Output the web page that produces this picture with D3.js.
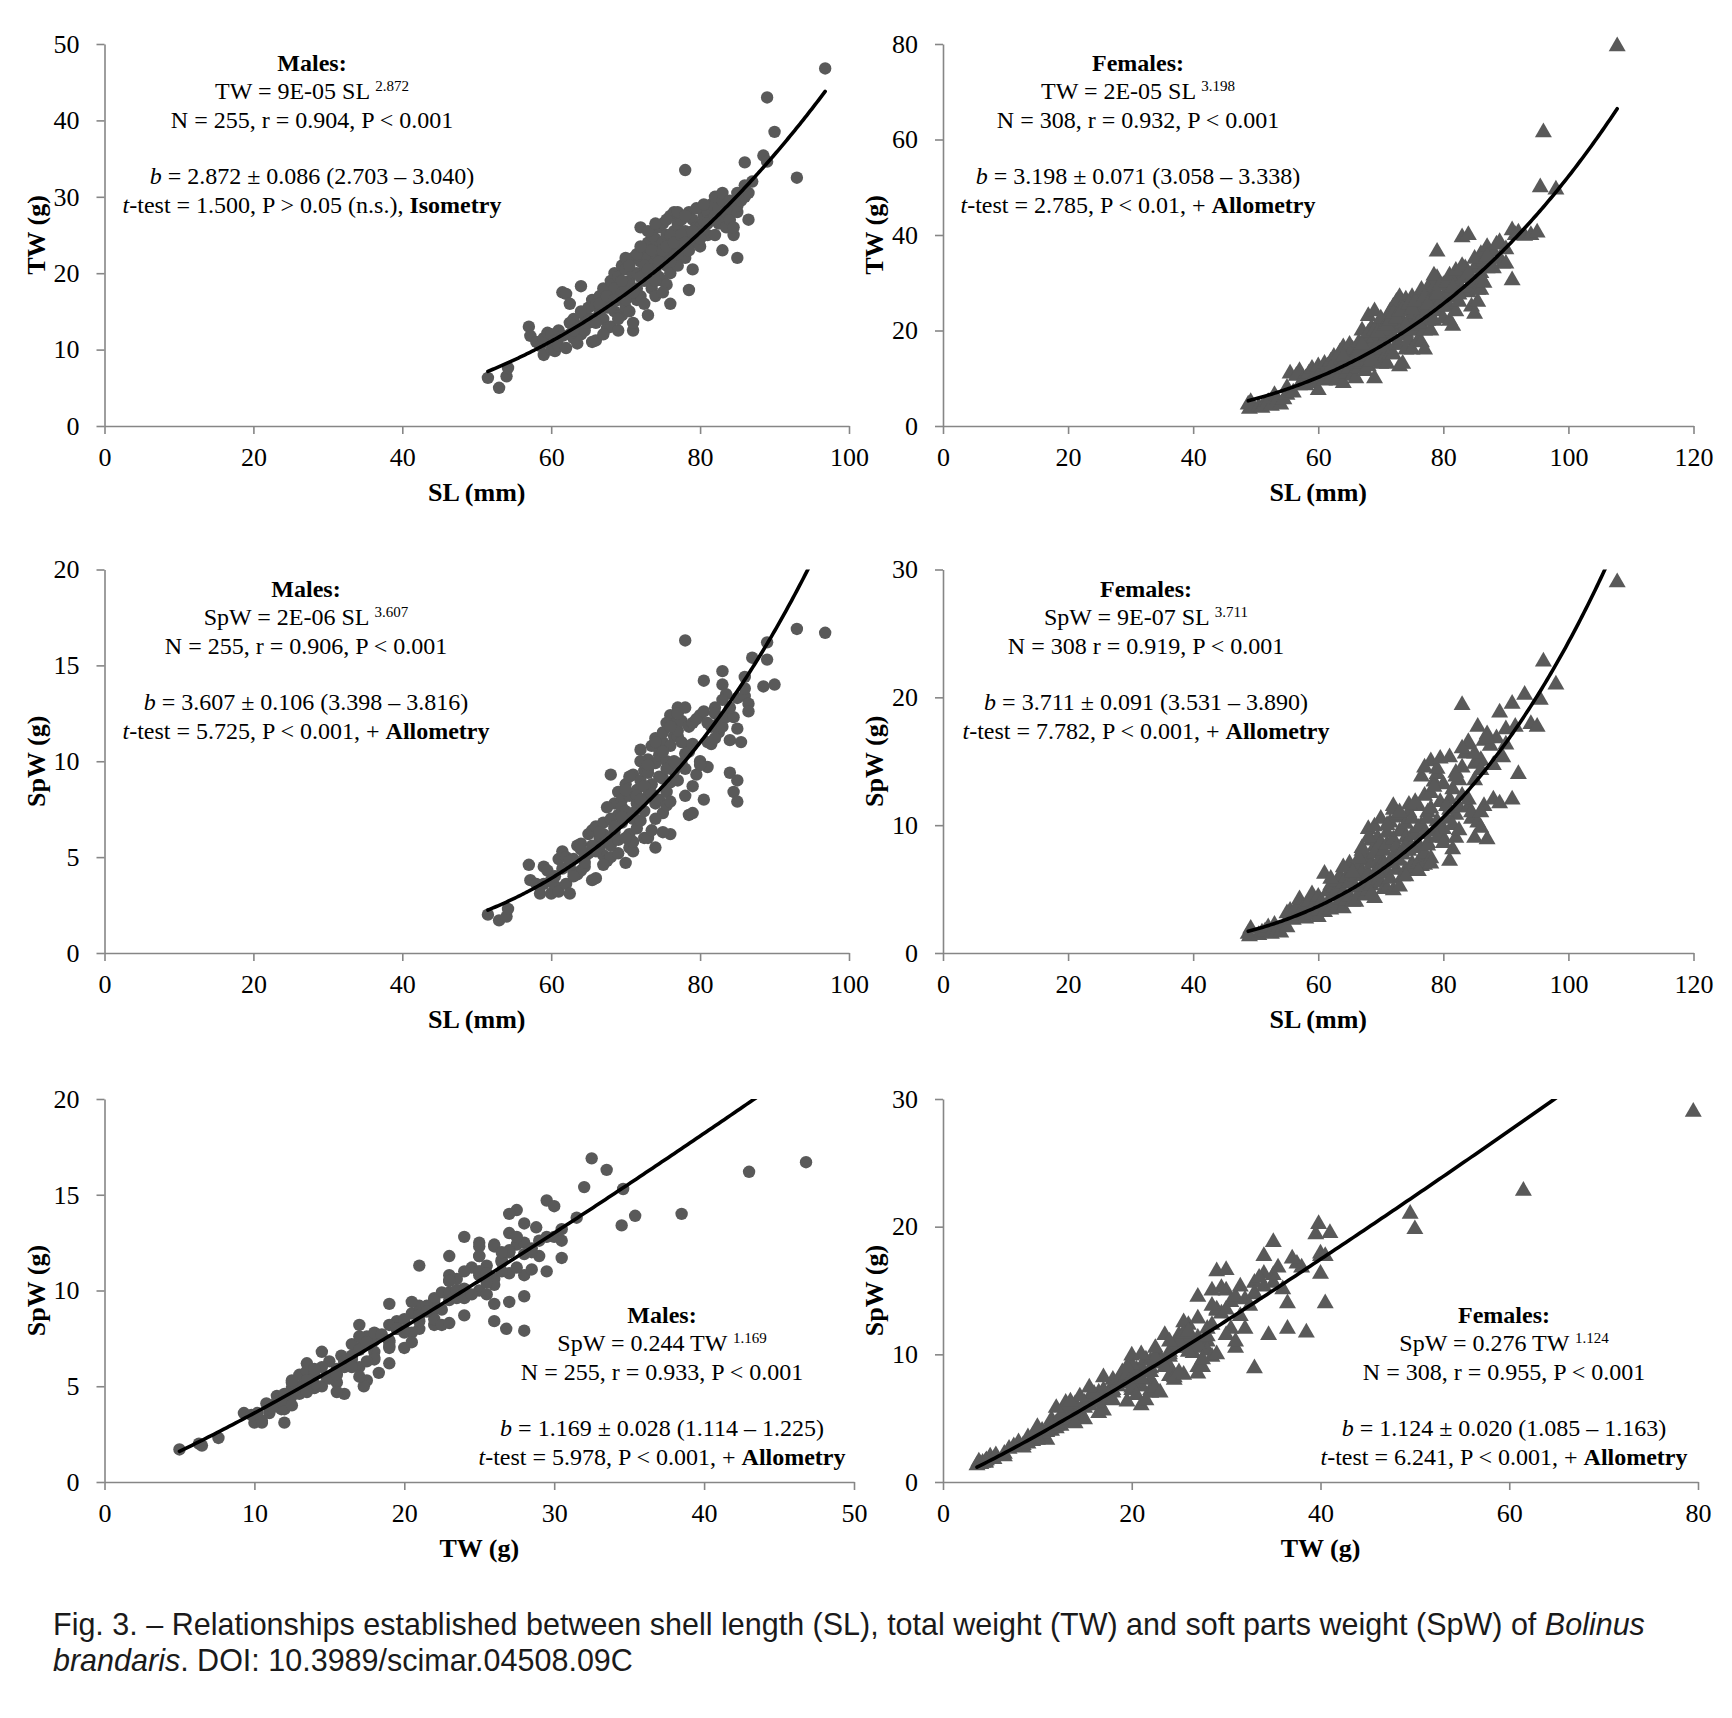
<!DOCTYPE html>
<html>
<head>
<meta charset="utf-8">
<script src="https://cdn.jsdelivr.net/npm/d3@7/dist/d3.min.js"></script>
<style>
  body { margin: 0; background: #fff; }
  svg text.serif { font-family: "Liberation Serif", "Times New Roman", serif; }
  svg text.caption { font-family: "Liberation Sans", Arial, Helvetica, sans-serif; }
</style>
</head>
<body>
<svg id="fig" width="1732" height="1718"></svg>
<script>
// ---- data: [SL (mm), TW (g), SpW (g)] per animal ----
var males = [
  [51.5, 6.3, 2.0], [53.0, 5.0, 1.7], [54.0, 6.5, 1.9], [54.2, 7.6, 2.3],
  [57.0, 13.0, 4.6], [57.2, 11.8, 3.8], [58.0, 11.0, 3.6], [58.5, 10.5, 3.1],
  [59.0, 9.3, 3.6], [59.0, 11.5, 4.5], [59.5, 12.2, 4.3], [60.0, 10.0, 3.1],
  [60.0, 12.0, 3.8], [60.5, 9.8, 3.5], [60.5, 11.2, 4.0], [61.0, 12.5, 4.9],
  [61.0, 10.5, 3.2], [61.5, 11.8, 4.4], [61.5, 17.5, 5.3], [62.0, 17.3, 5.0],
  [62.0, 10.2, 3.6], [62.5, 16.0, 4.6], [62.5, 12.0, 3.1], [63.0, 14.0, 4.9],
  [63.0, 11.5, 4.2], [63.5, 13.0, 5.6], [63.5, 10.8, 4.1], [64.0, 18.3, 5.7],
  [64.0, 12.0, 4.3], [64.5, 14.5, 5.0], [64.5, 12.5, 4.5], [65.0, 15.5, 5.2],
  [65.0, 13.5, 6.2], [65.5, 11.0, 3.8], [65.5, 16.5, 6.4], [66.0, 11.2, 3.9],
  [66.0, 15.8, 6.6], [66.5, 17.0, 6.0], [66.5, 14.8, 5.5], [67.0, 14.0, 5.1],
  [67.0, 16.2, 6.2], [67.0, 18.0, 6.8], [67.5, 15.5, 5.9], [67.5, 12.8, 4.8],
  [68.0, 13.0, 5.0], [68.0, 19.0, 9.3], [68.0, 17.0, 7.0], [68.5, 20.0, 7.8],
  [68.5, 15.0, 6.3], [68.5, 18.0, 6.5], [69.0, 16.5, 7.2], [69.0, 12.5, 5.2],
  [69.0, 19.5, 8.4], [69.5, 21.0, 8.0], [69.5, 14.5, 6.8], [69.5, 17.5, 7.6],
  [70.0, 18.0, 7.4], [70.0, 15.5, 4.7], [70.0, 20.5, 8.8], [70.5, 15.0, 5.5],
  [70.5, 19.0, 6.2], [70.5, 17.0, 8.2], [71.0, 22.0, 9.3], [71.0, 12.5, 5.3],
  [71.0, 13.5, 5.8], [71.0, 20.0, 7.0], [71.5, 20.0, 8.5], [71.5, 18.0, 7.8],
  [71.5, 16.5, 6.5], [72.0, 17.0, 6.9], [72.0, 26.0, 10.6], [72.0, 21.5, 9.0],
  [72.5, 23.0, 9.5], [72.5, 19.0, 7.4], [72.5, 16.0, 6.0], [73.0, 14.5, 6.0],
  [73.0, 19.0, 8.2], [73.0, 22.0, 9.6], [73.0, 24.0, 10.1], [73.5, 21.0, 8.8],
  [73.5, 18.0, 6.4], [73.5, 25.0, 10.8], [74.0, 24.5, 11.2], [74.0, 17.0, 5.5],
  [74.0, 20.5, 7.8], [74.0, 22.5, 9.9], [74.5, 26.0, 10.3], [74.5, 19.5, 8.0],
  [74.5, 23.5, 10.6], [75.0, 19.0, 7.3], [75.0, 22.0, 9.1], [75.0, 24.0, 11.0],
  [75.0, 26.5, 11.5], [75.5, 25.0, 10.0], [75.5, 21.0, 8.4], [75.5, 18.5, 7.7],
  [76.0, 27.5, 12.4], [76.0, 16.0, 6.2], [76.0, 23.0, 10.8], [76.0, 20.0, 7.9],
  [76.5, 28.0, 11.9], [76.5, 22.0, 9.5], [76.5, 25.5, 11.3], [77.0, 24.0, 12.8],
  [77.0, 21.0, 11.3], [77.0, 26.5, 11.6], [77.5, 27.0, 12.1], [77.5, 23.0, 9.9],
  [78.0, 33.5, 16.3], [78.0, 22.0, 8.2], [78.0, 25.5, 10.4], [78.5, 17.8, 7.2],
  [78.5, 25.0, 11.8], [78.5, 28.0, 10.8], [79.0, 20.5, 7.3], [79.0, 27.0, 12.0],
  [79.0, 24.0, 8.7], [79.5, 26.0, 9.3], [80.0, 26.0, 12.4], [80.0, 23.5, 10.0],
  [80.5, 26.8, 8.0], [80.5, 27.5, 14.2], [81.0, 28.0, 9.7], [81.0, 25.0, 11.0],
  [81.5, 27.0, 10.9], [81.5, 29.0, 11.8], [82.0, 30.0, 12.8], [82.0, 25.0, 12.5],
  [82.5, 28.5, 12.0], [82.5, 26.5, 11.5], [83.0, 29.5, 14.7], [83.0, 23.0, 11.8],
  [83.0, 27.0, 14.0], [83.5, 28.0, 13.5], [83.5, 26.0, 12.3], [84.0, 27.0, 9.4],
  [84.0, 28.5, 11.1], [84.5, 25.0, 12.3], [84.5, 26.0, 8.4], [85.0, 22.0, 9.0],
  [85.0, 28.0, 7.9], [85.0, 28.8, 13.3], [85.5, 29.5, 11.0], [86.0, 34.5, 13.4],
  [86.0, 30.0, 14.4], [86.5, 27.0, 13.0], [86.5, 30.5, 12.6], [87.0, 32.0, 15.4],
  [88.5, 35.4, 13.9], [89.0, 34.6, 15.3], [89.0, 43.0, 16.2], [90.0, 38.5, 14.0],
  [93.0, 32.5, 16.9], [96.8, 46.8, 16.7],
  [62.5, 13.5, 4.8], [63.0, 12.5, 4.0], [64.0, 15.0, 5.4], [64.5, 13.5, 4.7],
  [65.5, 14.0, 5.6], [66.0, 13.5, 5.3], [66.5, 16.0, 6.3], [67.0, 12.0, 4.6],
  [67.5, 17.0, 7.6], [68.0, 15.5, 5.6], [68.5, 16.5, 6.6], [69.0, 14.0, 5.9],
  [69.5, 19.0, 7.1], [70.0, 16.5, 6.0], [70.0, 22.0, 8.5], [70.5, 21.0, 9.2],
  [71.0, 17.5, 7.3], [71.5, 22.5, 8.2], [72.0, 19.5, 8.0], [72.0, 23.5, 10.0],
  [72.5, 21.0, 8.7], [73.0, 20.5, 9.4], [73.0, 25.5, 9.8], [73.5, 23.0, 8.3],
  [74.0, 19.0, 7.0], [74.0, 26.5, 11.0], [74.5, 21.5, 9.2], [75.0, 23.0, 10.5],
  [75.0, 17.5, 6.3], [75.5, 27.0, 12.0], [75.5, 23.5, 9.6], [76.0, 21.5, 8.9],
  [76.0, 25.0, 11.8], [76.5, 24.0, 10.0], [77.0, 22.5, 9.0], [77.0, 28.0, 12.5],
  [77.5, 25.0, 11.0], [78.0, 24.0, 9.6], [78.0, 27.5, 12.8], [78.5, 23.0, 10.5],
  [79.0, 25.5, 10.9], [79.5, 28.5, 12.2], [80.0, 24.5, 9.8], [80.5, 29.0, 12.6],
  [81.0, 26.5, 12.0], [82.0, 27.5, 11.2], [83.0, 30.5, 13.2], [84.0, 29.5, 12.8],
  [85.0, 30.5, 11.7], [86.0, 31.5, 13.8]
];

var females = [
  [48.8, 4.5, 1.5], [49.0, 3.6, 1.3], [49.2, 5.0, 1.9], [50.5, 4.0, 1.4],
  [51.0, 3.8, 1.6], [51.5, 4.6, 1.7], [52.0, 5.0, 2.0], [52.5, 4.2, 1.5],
  [53.0, 6.5, 2.2], [53.5, 5.4, 1.8], [54.0, 4.5, 1.6], [54.5, 5.6, 2.1],
  [55.0, 8.0, 3.1], [55.0, 6.5, 2.0], [55.5, 11.0, 3.3], [56.0, 7.0, 2.6],
  [56.5, 10.5, 3.6], [57.0, 11.5, 4.2], [57.0, 8.5, 2.9], [57.5, 9.5, 3.4],
  [58.0, 8.5, 2.7], [58.0, 10.0, 3.5], [58.5, 11.0, 4.0], [59.0, 9.0, 3.0],
  [59.0, 12.0, 4.6], [59.5, 10.5, 3.8], [60.0, 7.5, 2.8], [60.0, 12.5, 4.4],
  [60.0, 10.0, 3.3], [60.5, 11.5, 4.0], [61.0, 13.0, 6.2], [61.0, 9.5, 3.2],
  [61.5, 11.0, 3.9], [61.5, 12.5, 4.8], [62.0, 10.0, 3.4], [62.0, 13.5, 5.3],
  [62.5, 11.5, 4.5], [62.5, 14.5, 5.1], [63.0, 11.5, 4.9], [63.0, 14.0, 5.6],
  [63.0, 9.5, 3.6], [63.5, 12.0, 4.2], [63.5, 15.5, 6.0], [64.0, 16.5, 5.4],
  [64.0, 9.0, 3.5], [64.0, 13.0, 4.7], [64.5, 14.0, 5.9], [64.5, 11.0, 4.1],
  [65.0, 17.0, 7.0], [65.0, 12.0, 4.4], [65.0, 14.5, 5.5], [65.5, 16.0, 6.4],
  [65.5, 10.5, 4.0], [66.0, 10.0, 4.0], [66.0, 15.0, 6.0], [66.0, 13.0, 5.1],
  [66.5, 17.5, 6.8], [66.5, 12.0, 4.6], [67.0, 13.0, 5.2], [67.0, 20.0, 8.0],
  [67.0, 16.0, 6.3], [67.5, 18.0, 7.6], [67.5, 11.5, 4.5], [67.5, 14.5, 5.5],
  [68.0, 23.0, 9.7], [68.0, 18.0, 7.2], [68.0, 15.0, 6.2], [68.0, 12.5, 4.9],
  [68.5, 20.5, 8.8], [68.5, 16.5, 7.0], [68.5, 13.5, 5.3], [69.0, 24.0, 8.3],
  [69.0, 14.0, 6.1], [69.0, 10.0, 4.3], [69.0, 18.5, 7.8], [69.5, 21.0, 9.0],
  [69.5, 15.5, 6.6], [69.5, 17.0, 5.6], [70.0, 21.0, 7.5], [70.0, 16.0, 6.8],
  [70.0, 13.0, 5.5], [70.0, 19.0, 8.6], [70.5, 18.0, 8.0], [70.5, 14.0, 5.0],
  [71.0, 19.0, 8.5], [71.0, 13.0, 5.0], [71.0, 22.5, 9.4], [71.0, 16.5, 6.2],
  [71.5, 20.0, 7.2], [71.5, 15.0, 5.8], [71.5, 24.0, 10.2], [72.0, 25.0, 11.2],
  [72.0, 22.0, 8.9], [72.0, 15.0, 4.9], [72.0, 18.5, 7.5], [72.5, 26.0, 10.6],
  [72.5, 17.0, 6.5], [72.5, 20.5, 8.3], [73.0, 27.0, 10.8], [73.0, 17.0, 7.2],
  [73.0, 23.0, 9.5], [73.0, 12.5, 5.2], [73.5, 13.0, 6.0], [73.5, 21.5, 9.6],
  [73.5, 19.0, 7.7], [74.0, 24.0, 9.0], [74.0, 19.5, 8.4], [74.0, 16.0, 6.5],
  [74.0, 26.5, 10.1], [74.5, 22.0, 8.0], [74.5, 18.0, 6.4], [74.5, 25.0, 11.0],
  [75.0, 22.0, 7.0], [75.0, 16.0, 6.7], [75.0, 20.0, 9.2], [75.0, 27.0, 10.5],
  [75.5, 20.0, 8.2], [75.5, 23.5, 9.3], [76.0, 27.0, 8.5], [76.0, 18.0, 7.0],
  [76.0, 22.5, 9.8], [76.0, 25.0, 11.5], [76.5, 21.0, 7.5], [76.5, 24.0, 10.0],
  [76.5, 17.5, 6.8], [77.0, 23.0, 9.3], [77.0, 16.0, 6.9], [77.0, 26.0, 12.3],
  [77.0, 20.0, 7.8], [77.5, 28.0, 11.0], [77.5, 22.0, 8.6], [77.5, 24.5, 10.5],
  [78.0, 30.0, 15.0], [78.0, 25.5, 12.5], [78.0, 20.0, 7.4], [78.0, 27.0, 11.3],
  [78.5, 22.0, 9.5], [78.5, 29.0, 13.4], [79.0, 36.5, 14.0], [79.0, 28.0, 10.3],
  [79.0, 24.0, 9.8], [79.0, 31.0, 14.4], [79.5, 26.0, 11.8], [80.0, 27.0, 9.0],
  [80.0, 22.5, 9.7], [80.0, 29.5, 13.2], [80.5, 25.0, 10.5], [81.0, 22.0, 7.2],
  [81.0, 25.0, 11.2], [81.0, 28.0, 12.0], [81.5, 21.0, 8.1], [81.5, 27.0, 12.8],
  [82.0, 27.0, 10.8], [82.0, 30.5, 14.1], [82.0, 24.0, 9.0], [82.5, 29.0, 13.5],
  [82.5, 26.0, 11.4], [83.0, 31.0, 14.5], [83.0, 28.5, 12.3], [83.0, 39.5, 19.4],
  [83.5, 33.0, 15.6], [84.0, 40.0, 16.3], [84.0, 28.0, 11.4], [84.0, 29.0, 16.5],
  [84.5, 31.0, 10.5], [84.5, 25.0, 11.0], [85.0, 33.0, 14.8], [85.0, 23.5, 9.0],
  [85.0, 30.0, 13.5], [85.5, 26.0, 10.2], [85.5, 34.0, 17.7], [85.5, 28.5, 15.0],
  [86.0, 28.5, 9.8], [86.0, 36.0, 15.1], [86.0, 32.0, 14.3], [86.5, 30.0, 16.6],
  [86.5, 34.5, 11.5], [87.0, 37.5, 17.1], [87.0, 33.0, 8.9], [87.5, 35.0, 16.2],
  [88.0, 33.0, 14.7], [88.0, 36.5, 12.0], [88.5, 38.0, 16.8], [89.0, 35.0, 18.8],
  [89.0, 38.5, 11.7], [89.5, 34.0, 15.3], [90.0, 34.0, 16.3], [90.0, 37.0, 17.5],
  [91.0, 30.5, 12.0], [91.0, 41.0, 19.5], [91.5, 40.0, 17.7], [92.0, 40.5, 14.0],
  [93.0, 39.8, 20.2], [94.0, 40.0, 17.9], [95.0, 40.5, 17.7], [95.5, 50.0, 19.8],
  [96.0, 61.5, 22.8], [98.0, 49.5, 21.0], [107.8, 79.5, 29.0],
  [62.0, 12.0, 5.8], [64.0, 14.5, 6.7], [65.5, 13.5, 6.3], [66.5, 15.5, 7.4],
  [67.0, 17.0, 8.2], [68.0, 19.5, 9.0], [68.5, 14.0, 4.6], [69.0, 20.0, 9.9],
  [69.5, 19.5, 6.3], [70.0, 22.5, 10.5], [70.5, 20.5, 6.8], [71.0, 21.0, 10.0],
  [71.5, 22.0, 7.0], [72.0, 23.5, 11.5], [72.5, 22.5, 7.4], [73.0, 24.0, 11.0],
  [73.5, 24.5, 8.0], [74.0, 21.0, 6.0], [74.5, 25.5, 11.6], [75.0, 24.5, 8.2],
  [75.5, 26.0, 11.8], [76.0, 21.5, 6.4], [76.5, 28.5, 13.8], [77.0, 27.0, 14.5],
  [77.5, 25.5, 8.4], [78.0, 23.0, 7.0], [78.5, 31.5, 13.0], [79.0, 27.5, 9.0],
  [79.5, 29.5, 15.2], [80.0, 25.0, 8.6], [80.5, 30.0, 11.5], [81.0, 31.5, 15.3],
  [81.5, 29.0, 10.0], [82.0, 32.5, 13.8], [82.5, 27.5, 9.6], [83.0, 33.5, 16.0],
  [84.0, 32.0, 12.0], [85.0, 35.0, 15.6], [86.0, 31.0, 11.0], [87.0, 35.5, 16.8]
];

var fitA = [8.67e-5, 2.1e-5, 1.5e-6, 9.2e-7, 0.244, 0.276];
var fitB = [2.872, 3.198, 3.607, 3.711, 1.169, 1.124];

// tick labels
var ticksSL100 = [0, 20, 40, 60, 80, 100];
var ticksSL120 = [0, 20, 40, 60, 80, 100, 120];
var ticksTW50 = [0, 10, 20, 30, 40, 50];
var ticksTW80 = [0, 20, 40, 60, 80];
var ticksSpW20 = [0, 5, 10, 15, 20];
var ticksSpW30 = [0, 10, 20, 30];

// annotation text: [text, style]  style: "" normal, "b" bold, "i" italic, "s" superscript
var notes = [
  [[["Males:", "b"]],
   [["TW = 9E-05 SL ", ""], ["2.872", "s"]],
   [["N = 255, r = 0.904, P < 0.001", ""]],
   [],
   [["b", "i"], [" = 2.872 ± 0.086 (2.703 – 3.040)", ""]],
   [["t", "i"], ["-test = 1.500, P > 0.05 (n.s.), ", ""], ["Isometry", "b"]]],
  [[["Females:", "b"]],
   [["TW = 2E-05 SL ", ""], ["3.198", "s"]],
   [["N = 308, r = 0.932, P < 0.001", ""]],
   [],
   [["b", "i"], [" = 3.198 ± 0.071 (3.058 – 3.338)", ""]],
   [["t", "i"], ["-test = 2.785, P < 0.01, + ", ""], ["Allometry", "b"]]],
  [[["Males:", "b"]],
   [["SpW = 2E-06 SL ", ""], ["3.607", "s"]],
   [["N = 255, r = 0.906, P < 0.001", ""]],
   [],
   [["b", "i"], [" = 3.607 ± 0.106 (3.398 – 3.816)", ""]],
   [["t", "i"], ["-test = 5.725, P < 0.001, + ", ""], ["Allometry", "b"]]],
  [[["Females:", "b"]],
   [["SpW = 9E-07 SL ", ""], ["3.711", "s"]],
   [["N = 308 r = 0.919, P < 0.001", ""]],
   [],
   [["b", "i"], [" = 3.711 ± 0.091 (3.531 – 3.890)", ""]],
   [["t", "i"], ["-test = 7.782, P < 0.001, + ", ""], ["Allometry", "b"]]],
  [[["Males:", "b"]],
   [["SpW = 0.244 TW ", ""], ["1.169", "s"]],
   [["N = 255, r = 0.933, P < 0.001", ""]],
   [],
   [["b", "i"], [" = 1.169 ± 0.028 (1.114 – 1.225)", ""]],
   [["t", "i"], ["-test = 5.978, P < 0.001, + ", ""], ["Allometry", "b"]]],
  [[["Females:", "b"]],
   [["SpW = 0.276 TW ", ""], ["1.124", "s"]],
   [["N = 308, r = 0.955, P < 0.001", ""]],
   [],
   [["b", "i"], [" = 1.124 ± 0.020 (1.085 – 1.163)", ""]],
   [["t", "i"], ["-test = 6.241, P < 0.001, + ", ""], ["Allometry", "b"]]]
];

// ---- layout ----
var MARK = "#595959";
var AXIS = "#868686";

var panels = [
  { rows: males, xi: 0, yi: 1, tri: false, xT: ticksSL100, yT: ticksTW50,
    l: 104.5, r: 849, t: 44, b: 426, xTitle: "SL (mm)", yTitle: "TW (g)", nx: 312, ny: 71 },
  { rows: females, xi: 0, yi: 1, tri: true, xT: ticksSL120, yT: ticksTW80,
    l: 943, r: 1693.5, t: 44, b: 426, xTitle: "SL (mm)", yTitle: "TW (g)", nx: 1138, ny: 71 },
  { rows: males, xi: 0, yi: 2, tri: false, xT: ticksSL100, yT: ticksSpW20,
    l: 104.5, r: 849, t: 569.5, b: 953, xTitle: "SL (mm)", yTitle: "SpW (g)", nx: 306, ny: 597 },
  { rows: females, xi: 0, yi: 2, tri: true, xT: ticksSL120, yT: ticksSpW30,
    l: 943, r: 1693.5, t: 569.5, b: 953, xTitle: "SL (mm)", yTitle: "SpW (g)", nx: 1146, ny: 597 },
  { rows: males, xi: 1, yi: 2, tri: false, xT: ticksTW50, yT: ticksSpW20,
    l: 104.5, r: 854, t: 1099, b: 1482, xTitle: "TW (g)", yTitle: "SpW (g)", nx: 662, ny: 1323 },
  { rows: females, xi: 1, yi: 2, tri: true, xT: ticksTW80, yT: ticksSpW30,
    l: 943, r: 1698, t: 1099, b: 1482, xTitle: "TW (g)", yTitle: "SpW (g)", nx: 1504, ny: 1323 }
];

var svg = d3.select("#fig");
var triangle = d3.symbol().type(d3.symbolTriangle).size(125);

function drawNote(g, cx, cy, lines) {
  lines.forEach(function (segs, k) {
    if (segs.length === 0) return;
    var txt = g.append("text")
      .attr("class", "serif")
      .attr("x", cx)
      .attr("y", cy + k * 28.3)
      .attr("text-anchor", "middle")
      .attr("font-size", 24)
      .attr("fill", "#000");
    segs.forEach(function (s) {
      var ts = txt.append("tspan").text(s[0]);
      if (s[1] === "b") ts.attr("font-weight", "bold");
      if (s[1] === "i") ts.attr("font-style", "italic");
      if (s[1] === "s") ts.attr("font-size", 15).attr("dy", -8);
    });
  });
}

panels.forEach(function (p, i) {
  var xMax = p.xT[p.xT.length - 1];
  var yMax = p.yT[p.yT.length - 1];
  var x = d3.scaleLinear().domain([0, xMax]).range([p.l, p.r]);
  var y = d3.scaleLinear().domain([0, yMax]).range([p.b, p.t]);

  var g = svg.append("g").attr("class", "panel-" + i);

  svg.append("clipPath").attr("id", "clip-" + i)
    .append("rect")
    .attr("x", p.l).attr("y", p.t)
    .attr("width", p.r - p.l).attr("height", p.b - p.t);

  // axes
  var gx = g.append("g")
    .attr("transform", "translate(0," + p.b + ")")
    .call(d3.axisBottom(x).tickValues(p.xT).tickSize(8).tickSizeOuter(0).tickPadding(14));
  var gy = g.append("g")
    .attr("transform", "translate(" + p.l + ",0)")
    .call(d3.axisLeft(y).tickValues(p.yT).tickSize(8).tickSizeOuter(0).tickPadding(17));

  [gx, gy].forEach(function (ax) {
    ax.attr("font-size", 26);
    ax.selectAll("path, line").attr("stroke", AXIS).attr("stroke-width", 1.6);
    ax.selectAll("text").attr("class", "serif").attr("fill", "#000");
  });

  // axis titles
  g.append("text")
    .attr("class", "serif")
    .attr("x", (p.l + p.r) / 2)
    .attr("y", p.b + 75)
    .attr("text-anchor", "middle")
    .attr("font-weight", "bold")
    .attr("font-size", 26)
    .text(p.xTitle);

  g.append("text")
    .attr("class", "serif")
    .attr("transform", "translate(" + (p.l - 69) + "," + ((p.t + p.b) / 2) + ") rotate(-90)")
    .attr("text-anchor", "middle")
    .attr("dy", "0.35em")
    .attr("font-weight", "bold")
    .attr("font-size", 26)
    .text(p.yTitle);

  // points
  var pts = g.append("g");
  if (p.tri) {
    pts.selectAll("path").data(p.rows).enter().append("path")
      .attr("d", triangle)
      .attr("transform", function (d) { return "translate(" + x(d[p.xi]) + "," + y(d[p.yi]) + ")"; })
      .attr("fill", MARK);
  } else {
    pts.selectAll("circle").data(p.rows).enter().append("circle")
      .attr("cx", function (d) { return x(d[p.xi]); })
      .attr("cy", function (d) { return y(d[p.yi]); })
      .attr("r", 6.2)
      .attr("fill", MARK);
  }

  // fitted power curve over the data range
  var ext = d3.extent(p.rows, function (d) { return d[p.xi]; });
  var xs = d3.range(0, 201).map(function (k) { return ext[0] + (ext[1] - ext[0]) * k / 200; });
  var line = d3.line()
    .x(function (v) { return x(v); })
    .y(function (v) { return y(fitA[i] * Math.pow(v, fitB[i])); });
  g.append("path")
    .datum(xs)
    .attr("clip-path", "url(#clip-" + i + ")")
    .attr("d", line)
    .attr("fill", "none")
    .attr("stroke", "#000")
    .attr("stroke-width", 3.6)
    .attr("stroke-linecap", "round");

  drawNote(g, p.nx, p.ny, notes[i]);
});

// caption
var cap1 = svg.append("text")
  .attr("class", "caption")
  .attr("x", 53).attr("y", 1635)
  .attr("font-size", 30.5)
  .attr("fill", "#1a1a1a");
cap1.append("tspan").text("Fig. 3. – Relationships established between shell length (SL), total weight (TW) and soft parts weight (SpW) of ");
cap1.append("tspan").attr("font-style", "italic").text("Bolinus");

var cap2 = svg.append("text")
  .attr("class", "caption")
  .attr("x", 53).attr("y", 1671)
  .attr("font-size", 30.5)
  .attr("fill", "#1a1a1a");
cap2.append("tspan").attr("font-style", "italic").text("brandaris");
cap2.append("tspan").text(". DOI: 10.3989/scimar.04508.09C");
</script>
</body>
</html>
